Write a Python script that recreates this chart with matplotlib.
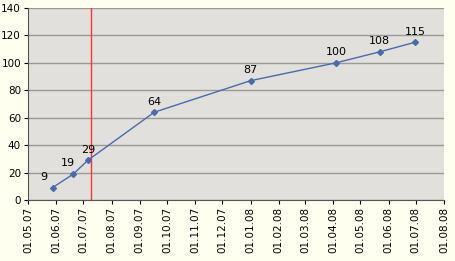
import pandas as pd
import matplotlib
matplotlib.use("Agg")
import matplotlib.pyplot as plt
import matplotlib.dates as mdates

dates = ["2007-05-28", "2007-06-20", "2007-07-06", "2007-09-17",
         "2008-01-01", "2008-04-04", "2008-05-22", "2008-06-30"]
values = [9, 19, 29, 64, 87, 100, 108, 115]
marker_date = "2007-07-09"

frame = pd.DataFrame({"Date": pd.to_datetime(dates), "Value": values})

# label offsets (points), the first two sit up-left of their markers
label_dx = [-6, -4, 0, 0, 0, 0, 0, 0]

fig = plt.figure(figsize=(4.56, 2.61), dpi=100, facecolor="#FFFFEF")
ax = fig.add_axes([28/456, 1-200/261, 416/456, 192/261])
ax.set_facecolor("#E1E0DD")

ax.plot(frame["Date"], frame["Value"], color="#4A6AAA", linewidth=1,
        marker="D", markersize=3, zorder=3)
for d, v, dx in zip(frame["Date"], frame["Value"], label_dx):
    ax.annotate(str(v), (d, v), xytext=(dx, 4), textcoords="offset points",
                ha="center", va="bottom", fontsize=8)

ax.axvline(pd.to_datetime(marker_date), color="#FF3333", linewidth=1, zorder=2)

ax.set_xlim(pd.to_datetime("2007-05-01"), pd.to_datetime("2008-08-01"))
ax.set_ylim(0, 140)
ax.set_yticks(range(0, 141, 20))
ax.xaxis.set_major_locator(mdates.MonthLocator())
ax.xaxis.set_major_formatter(mdates.DateFormatter("%d.%m.%y"))
ax.tick_params(axis="x", rotation=90, labelsize=7.5, length=3, pad=2)
ax.tick_params(axis="y", labelsize=7.5, length=3, pad=2)
ax.grid(axis="y", color="#9A9A9A", linewidth=1)
ax.set_axisbelow(True)

for side in ["top", "right"]:
    ax.spines[side].set_visible(False)
for side in ["left", "bottom"]:
    ax.spines[side].set_color("#555555")

fig.savefig("out.png", dpi=100, facecolor=fig.get_facecolor())
